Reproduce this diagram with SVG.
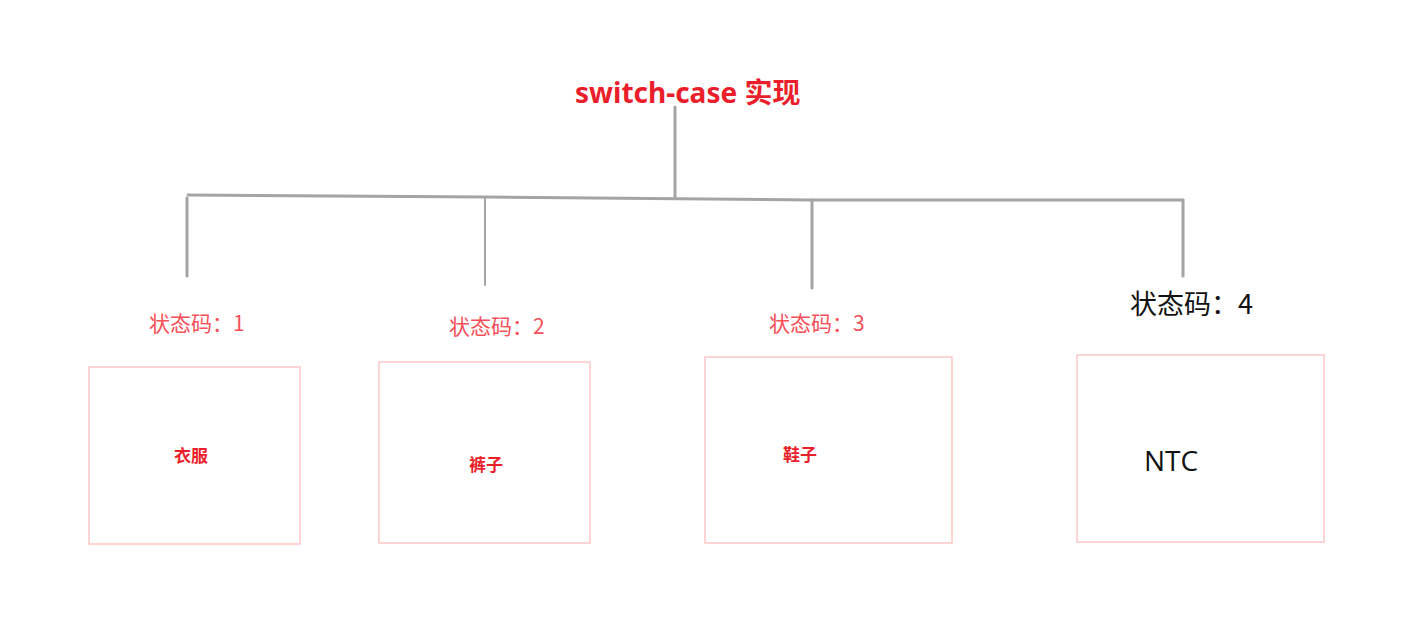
<svg xmlns="http://www.w3.org/2000/svg" width="1426" height="622" viewBox="0 0 1426 622">
<style>
.title{font-family:"Noto Sans","Noto Sans CJK SC",sans-serif;font-weight:bold;font-size:28px;fill:#ea1f2b}
.lbl{font-family:"Noto Sans CJK SC",sans-serif;font-size:21px;fill:#f6505a}
.lbl4{font-family:"Noto Sans CJK SC",sans-serif;font-size:27px;fill:#111}
.box{fill:#fff;stroke:#ffcaca;stroke-width:1.6}
.item{font-family:"Noto Sans CJK SC",sans-serif;font-weight:bold;font-size:17px;fill:#ea1f2b}
.ntc{font-family:"Open Sans","Noto Sans",sans-serif;font-size:28px;fill:#111}
.ln{fill:none;stroke:#a4a4a4;stroke-width:3;stroke-linecap:round}
.thin{stroke-width:2}
</style>
<rect width="1426" height="622" fill="#fff"/>
<g id="connectors">
<path class="ln" d="M675,107 V197"/>
<path class="ln" d="M188,195 L485,197 L812,200 L1183,200"/>
<path class="ln" d="M187,198 V276"/>
<path class="ln thin" d="M485,197 V285"/>
<path class="ln" d="M812,200 V288"/>
<path class="ln" d="M1183,200 V276"/>
</g>
<g id="title"><text class="title" x="575" y="103">switch-case 实现</text></g>
<g id="case1">
<text class="lbl" x="149" y="331">状态码：1</text>
<rect class="box" x="89" y="367" width="211" height="177"/>
<text class="item" x="174" y="462">衣服</text>
</g>
<g id="case2">
<text class="lbl" x="449" y="334">状态码：2</text>
<rect class="box" x="379" y="362" width="211" height="181"/>
<text class="item" x="469" y="471">裤子</text>
</g>
<g id="case3">
<text class="lbl" x="769" y="331">状态码：3</text>
<rect class="box" x="705" y="357" width="247" height="186"/>
<text class="item" x="783" y="461">鞋子</text>
</g>
<g id="case4">
<text class="lbl4" x="1130" y="314">状态码：4</text>
<rect class="box" x="1077" y="355" width="247" height="187"/>
<text class="ntc" x="1144" y="471">NTC</text>
</g>
</svg>
